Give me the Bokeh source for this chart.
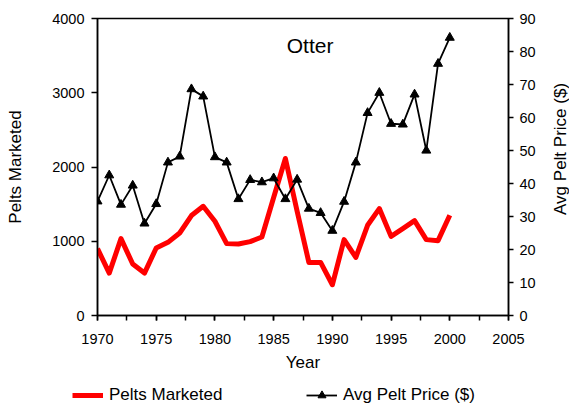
import math
from bokeh.plotting import figure
from bokeh.layouts import column, row
from bokeh.models import (Range1d, LinearAxis, SingleIntervalTicker, Legend, LegendItem,
                          Label, ColumnDataSource)
from bokeh.embed import file_html
from bokeh.resources import INLINE

years = list(range(1970, 2001))
pelts_marketed = [900, 571, 1035, 693, 571, 909, 985, 1111, 1346, 1471, 1269, 968, 963, 995,
                  1057, 1590, 2115, 1404, 715, 715, 414, 1022, 783, 1215, 1440, 1066, 1170,
                  1278, 1022, 1008, 1350]
avg_pelt_price = [34.6, 42.5, 33.6, 39.4, 27.9, 33.8, 46.4, 48.2, 68.6, 66.4, 48.0, 46.4, 35.3,
                  41.1, 40.4, 41.6, 35.3, 41.2, 32.4, 31.1, 25.7, 34.5, 46.4, 61.4, 67.5, 58.1,
                  57.9, 67.0, 50.0, 76.3, 84.2]
series_names = ["Pelts Marketed", "Avg Pelt Price ($)"]
chart_title = "Otter"

FONT = "Liberation Sans"
RED = "#ff0000"

src = ColumnDataSource(dict(year=years, pelts=pelts_marketed, price=avg_pelt_price))

p = figure(width=545, height=378, output_backend="svg", toolbar_location=None,
           x_range=Range1d(1970, 2005), y_range=Range1d(0, 4000),
           min_border_left=97, min_border_right=37, min_border_top=18, min_border_bottom=63)
p.extra_y_ranges = {"price": Range1d(0, 90)}
p.xgrid.visible = False
p.ygrid.visible = False
p.outline_line_color = "black"
p.outline_line_width = 1.5
p.background_fill_color = "white"
p.border_fill_color = "white"

for ax in [p.xaxis[0], p.yaxis[0]]:
    ax.axis_line_width = 1.5
    ax.major_tick_line_width = 1.5
    ax.minor_tick_line_width = 1.5
    ax.major_tick_in = 0
    ax.minor_tick_in = 0
    ax.major_label_text_font = FONT
    ax.major_label_text_font_size = "14.5px"
    ax.major_label_text_color = "black"
    ax.axis_label_text_font = FONT
    ax.axis_label_text_font_size = "17px"
    ax.axis_label_text_font_style = "normal"
    ax.axis_label_text_color = "black"

p.xaxis[0].ticker = SingleIntervalTicker(interval=5, num_minor_ticks=2)
p.xaxis[0].major_tick_out = 5
p.xaxis[0].minor_tick_out = 5
p.xaxis[0].major_label_standoff = 13
p.xaxis[0].axis_label = "Year"
p.xaxis[0].axis_label_standoff = 6

p.yaxis[0].ticker = SingleIntervalTicker(interval=1000, num_minor_ticks=0)
p.yaxis[0].major_tick_out = 6
p.yaxis[0].minor_tick_out = 0
p.yaxis[0].major_label_standoff = 7
p.yaxis[0].axis_label = series_names[0]
p.yaxis[0].axis_label_standoff = 24

ry = LinearAxis(y_range_name="price", ticker=SingleIntervalTicker(interval=10, num_minor_ticks=0))
ry.axis_line_width = 1.5
ry.major_tick_line_width = 1.5
ry.major_tick_in = 0
ry.major_tick_out = 5
ry.minor_tick_out = 0
ry.major_label_standoff = 6
ry.major_label_text_font = FONT
ry.major_label_text_font_size = "14.5px"
ry.major_label_text_color = "black"
p.add_layout(ry, "right")

p.line("year", "pelts", source=src, line_color=RED, line_width=5, line_join="round")
p.line("year", "price", source=src, y_range_name="price", line_color="black", line_width=1.8)
p.scatter("year", "price", source=src, y_range_name="price", marker="triangle",
          size=9, fill_color="black", line_color="black")

p.add_layout(Label(x=1988.1, y=3630, text=chart_title, text_align="center",
                   text_baseline="middle", text_font=FONT, text_font_size="21px",
                   text_color="black"))

# narrow strip at the right holding the secondary axis title
r = figure(width=24, height=378, output_backend="svg", toolbar_location=None,
           x_range=Range1d(0, 24), y_range=Range1d(0, 378),
           x_axis_location=None, y_axis_location=None, min_border=0)
r.xgrid.visible = False
r.ygrid.visible = False
r.outline_line_color = None
r.background_fill_color = "white"
r.border_fill_color = "white"
r.add_layout(Label(x=14.5, y=212, text=series_names[1], angle=math.pi / 2,
                   text_align="center", text_baseline="middle", text_font=FONT,
                   text_font_size="17px", text_color="black"))

# legend strip below the chart (its sample glyphs reuse the same series; the data lie
# outside this strip's own view, so only the legend shows)
q = figure(width=569, height=30, output_backend="svg", toolbar_location=None,
           x_range=Range1d(0, 1), y_range=Range1d(0, 1),
           x_axis_location=None, y_axis_location=None, min_border=0)
q.xgrid.visible = False
q.ygrid.visible = False
q.outline_line_color = None
q.background_fill_color = "white"
q.border_fill_color = "white"
lr = q.line("year", "pelts", source=src, line_color=RED, line_width=5)
lb = q.line("year", "price", source=src, line_color="black", line_width=1.8)
lt = q.scatter("year", "price", source=src, marker="triangle", size=9,
               fill_color="black", line_color="black")
legend = Legend(items=[LegendItem(label=series_names[0], renderers=[lr]),
                       LegendItem(label=series_names[1], renderers=[lb, lt])],
                orientation="horizontal", location=(72, 3),
                border_line_color=None, background_fill_alpha=0,
                label_text_font=FONT, label_text_font_size="17px", label_text_color="black",
                glyph_width=31, glyph_height=20, label_height=20, label_width=152,
                label_standoff=6, spacing=45, padding=0, margin=0)
q.add_layout(legend, "center")

layout = column(row(p, r, spacing=0), q, spacing=0)
open("out.html", "w").write(file_html(layout, INLINE))
